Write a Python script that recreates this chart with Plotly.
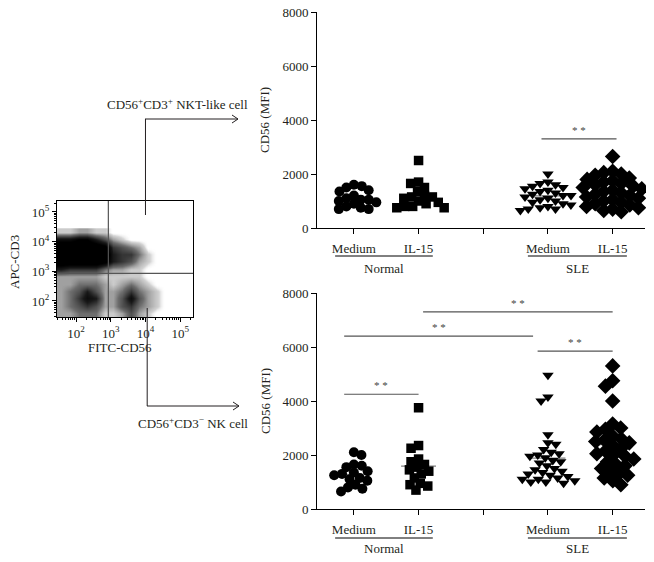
import numpy as np
import plotly.graph_objects as go

# ---------------- data ----------------
categories = ["Medium", "IL-15", "", "Medium", "IL-15"]
cat_positions = [1, 2, 3, 4, 5]
groups = ["Normal", "SLE"]
y_ticks = [0, 2000, 4000, 6000, 8000]

# CD56+CD3+ NKT-like cells (top panel), CD56 MFI
nkt_normal_medium = [1600, 1550, 1500, 1400, 1350, 1200, 1100, 1050, 1050, 1000, 950, 900, 800, 750, 700, 700]
nkt_normal_il15 = [2500, 1700, 1650, 1500, 1350, 1200, 1150, 1150, 1100, 1000, 950, 900, 800, 800, 750, 750]
nkt_sle_medium = [2000, 1700, 1650, 1600, 1550, 1500, 1450, 1400, 1350, 1300, 1250, 1200, 1200, 1150,
                  1100, 1050, 1000, 950, 900, 850, 800, 750, 700, 700, 650]
nkt_sle_il15 = [2650, 2100, 2050, 2000, 1950, 1850, 1800, 1750, 1700, 1650, 1600, 1550, 1500, 1450, 1400,
                1400, 1350, 1300, 1250, 1200, 1150, 1100, 1050, 1000, 950, 900, 850, 800, 750, 700, 650, 600]

# CD56+CD3- NK cells (bottom panel), CD56 MFI
nk_normal_medium = [2100, 2000, 1650, 1600, 1550, 1400, 1350, 1300, 1250, 1150, 1100, 1050, 900, 800, 750, 650]
nk_normal_il15 = [3750, 2350, 2250, 1850, 1750, 1650, 1550, 1450, 1400, 1300, 1150, 950, 900, 850, 700]
nk_sle_medium = [4950, 4150, 4000, 2750, 2450, 2400, 2200, 2100, 2050, 2000, 1950, 1900, 1800, 1750, 1700,
                 1600, 1500, 1450, 1400, 1350, 1300, 1250, 1200, 1150, 1100, 1100, 1050, 1000, 1000, 950]
nk_sle_il15 = [5300, 4750, 4550, 4000, 3150, 3000, 2950, 2850, 2700, 2600, 2550, 2500, 2450, 2350, 2250,
               2150, 2050, 2000, 1950, 1850, 1750, 1650, 1600, 1500, 1400, 1300, 1250, 1150, 1050, 900]

# significance comparisons: (from position, to position, bar level)
nkt_sig = [(3.9, 5.06, 3300)]
nk_sig = [(0.85, 2.0, 4250), (0.85, 3.77, 6400), (2.07, 5.0, 7300), (3.84, 5.0, 5850)]

# flow cytometry dot plot, as density (log10 units)
flow_x_log = [1.575, 1.825, 2.075, 2.325, 2.575, 2.825, 3.075, 3.325, 3.575, 3.825, 4.075, 4.325, 4.575]
flow_y_log = [1.575, 1.825, 2.075, 2.325, 2.575, 2.825, 3.075, 3.325, 3.575, 3.825, 4.075, 4.325]
flow_density = [
    [2, 2, 3, 3, 3, 1, 1, 2, 4, 2, 1, 0, 0],
    [2, 3, 4, 5, 4, 2, 2, 4, 5, 3, 2, 1, 0],
    [2, 3, 5, 7, 6, 2, 2, 4, 7, 4, 2, 1, 0],
    [2, 3, 4, 6, 4, 2, 2, 3, 5, 3, 2, 1, 0],
    [2, 2, 3, 3, 3, 2, 1, 2, 3, 2, 1, 0, 0],
    [2, 2, 2, 2, 2, 1, 1, 1, 1, 1, 0, 0, 0],
    [6, 5, 5, 5, 5, 3, 2, 2, 1, 1, 0, 0, 0],
    [10, 10, 10, 10, 10, 9, 6, 5, 4, 2, 1, 0, 0],
    [10, 10, 10, 10, 10, 10, 6, 5, 5, 3, 1, 0, 0],
    [10, 10, 10, 10, 10, 9, 5, 4, 3, 2, 0, 0, 0],
    [7, 7, 8, 8, 6, 4, 2, 1, 0, 0, 0, 0, 0],
    [1, 1, 2, 2, 1, 1, 0, 0, 0, 0, 0, 0, 0],
]
gate_log = 2.93
flow_ticks = [2, 3, 4, 5]

# ---------------- layout helpers ----------------
PAGE_W, PAGE_H = 654, 562
OFF = 8  # default page margin around the plot div
W, H = PAGE_W - 2 * OFF, PAGE_H - 2 * OFF
FONT = "Liberation Serif"
TXT = "#231f20"


def fx(px):
    return (px - OFF) / W


def fy(py):
    return 1 - (py - OFF) / H


XR = [0.43, 5.5]
YR = [0, 8000]
dom_x = [fx(317), fx(645)]
dom_top = [fy(228), fy(12)]
dom_bot = [fy(509), fy(293)]
kx = (645 - 317) / (XR[1] - XR[0])
ky = 216 / 8000


def swarm(vals, d):
    vals = list(vals)
    order = sorted(range(len(vals)), key=lambda i: -vals[i])
    placed = []
    offs = [0.0] * len(vals)
    flip = 1
    for i in order:
        y = vals[i] * ky
        cands = [0.0]
        for xj, yj in placed:
            dy = abs(y - yj)
            if dy < d:
                dx = np.sqrt(d * d - dy * dy)
                cands += [xj + dx + 1e-6, xj - dx - 1e-6]
        cands.sort(key=lambda c: (round(abs(c), 6), flip * c))
        chosen = 0.0
        for c in cands:
            if all((c - xj) ** 2 + (y - yj) ** 2 >= d * d - 1e-6 for xj, yj in placed):
                chosen = c
                break
        flip = -flip
        placed.append((chosen, y))
        offs[i] = chosen / kx
    return offs


fig = go.Figure()

symbols = ["circle", "square", "triangle-down", "diamond"]
sizes = [10, 9.5, 10, 12]
spacing = [8, 8, 8, 9]
panels = [
    ("x", "y", [nkt_normal_medium, nkt_normal_il15, nkt_sle_medium, nkt_sle_il15]),
    ("x2", "y2", [nk_normal_medium, nk_normal_il15, nk_sle_medium, nk_sle_il15]),
]
pos4 = [cat_positions[0], cat_positions[1], cat_positions[3], cat_positions[4]]
for xa, ya, series in panels:
    for k, vals in enumerate(series):
        m = float(np.mean(vals))
        c = pos4[k]
        fig.add_trace(go.Scatter(x=[c - 0.27, c + 0.27], y=[m, m], mode="lines",
                                 line=dict(color="#7f7f7f", width=1.2), xaxis=xa, yaxis=ya,
                                 hoverinfo="skip"))
        offs = swarm(vals, spacing[k])
        fig.add_trace(go.Scatter(x=[c + o for o in offs], y=vals, mode="markers",
                                 marker=dict(symbol=symbols[k], size=sizes[k], color="black",
                                             line=dict(width=0)),
                                 xaxis=xa, yaxis=ya, cliponaxis=False))

# flow density
fig.add_trace(go.Heatmap(x=flow_x_log, y=flow_y_log, z=flow_density, zmin=0, zmax=10,
                         zsmooth="best", showscale=False, xaxis="x3", yaxis="y3",
                         colorscale=[[0, "rgba(255,255,255,0)"], [0.08, "rgba(200,200,200,0.8)"],
                                     [0.3, "rgb(110,110,110)"], [0.6, "rgb(25,25,25)"],
                                     [0.8, "black"], [1, "black"]]))

ax_common = dict(showgrid=False, zeroline=False, showline=True, linecolor="black", linewidth=1,
                 ticks="outside", ticklen=5, tickcolor="black", automargin=False,
                 ticklabeloverflow="allow",
                 tickfont=dict(family=FONT, size=13, color=TXT))
for xa_name, ya_name, ydom, ya_ref in [("xaxis", "yaxis", dom_top, "y"), ("xaxis2", "yaxis2", dom_bot, "y2")]:
    fig.update_layout(**{
        xa_name: dict(ax_common, domain=dom_x, range=XR, anchor=ya_ref, tickvals=cat_positions,
                      ticktext=categories, ticklabelstandoff=3),
        ya_name: dict(ax_common, domain=ydom, range=YR, anchor=xa_name.replace("axis", ""),
                      tickvals=y_ticks, ticktext=[str(v) for v in y_ticks]),
    })

minor_vals = [np.log10(k * 10 ** n) for n in range(1, 6) for k in range(2, 10)]
minor_vals = [v for v in minor_vals if 1.45 < v < 5.37]
flow_ax = dict(showgrid=False, zeroline=False, showline=True, mirror=True, linecolor="black",
               linewidth=1, ticks="outside", ticklen=4, tickcolor="black", automargin=False,
               ticklabeloverflow="allow",
               tickvals=flow_ticks, ticktext=[f"10<sup>{t}</sup>" for t in flow_ticks],
               tickfont=dict(family=FONT, size=13, color=TXT),
               minor=dict(tickvals=minor_vals, ticklen=2, tickcolor="black", ticks="outside"))
fig.update_layout(
    xaxis3=dict(flow_ax, domain=[fx(57), fx(193)], range=[1.45, 5.37], anchor="y3"),
    yaxis3=dict(flow_ax, domain=[fy(317), fy(201)], range=[1.46, 5.37], anchor="x3"),
)

shapes = []
ann = []


def text(t, x, y, xref="paper", yref="paper", size=13, color=TXT, angle=0, **kw):
    ann.append(dict(text=t, x=x, y=y, xref=xref, yref=yref, showarrow=False, textangle=angle,
                    xanchor=kw.pop("xanchor", "center"), yanchor=kw.pop("yanchor", "middle"),
                    font=dict(family=FONT, size=size, color=color), **kw))


# gates
shapes.append(dict(type="line", xref="x3", yref="y3", x0=gate_log, x1=gate_log, y0=1.46, y1=5.37,
                   line=dict(color="#555", width=1.2)))
shapes.append(dict(type="line", xref="x3", yref="y3", x0=1.45, x1=5.37, y0=gate_log, y1=gate_log,
                   line=dict(color="#555", width=1.2)))
# pointer lines
LC = dict(color="#231f20", width=1)
shapes.append(dict(type="line", xref="x3", yref="paper", x0=4.0, x1=4.0, y0=fy(215), y1=fy(119), line=LC))
shapes.append(dict(type="line", xref="paper", yref="paper", x0=fx(145), x1=fx(238), y0=fy(119), y1=fy(119), line=LC))
shapes.append(dict(type="line", xref="paper", yref="paper", x0=fx(232), x1=fx(238), y0=fy(115), y1=fy(119), line=LC))
shapes.append(dict(type="line", xref="paper", yref="paper", x0=fx(232), x1=fx(238), y0=fy(123), y1=fy(119), line=LC))
shapes.append(dict(type="line", xref="x3", yref="paper", x0=4.05, x1=4.05, y0=fy(308), y1=fy(406), line=LC))
shapes.append(dict(type="line", xref="paper", yref="paper", x0=fx(147), x1=fx(239), y0=fy(406), y1=fy(406), line=LC))
shapes.append(dict(type="line", xref="paper", yref="paper", x0=fx(233), x1=fx(239), y0=fy(402), y1=fy(406), line=LC))
shapes.append(dict(type="line", xref="paper", yref="paper", x0=fx(233), x1=fx(239), y0=fy(410), y1=fy(406), line=LC))

text("CD56<sup>+</sup>CD3<sup>+</sup> NKT-like cell", fx(177), fy(104))
text("CD56<sup>+</sup>CD3<sup>−</sup> NK cell", fx(193), fy(423))
text("APC-CD3", fx(14), fy(262), angle=-90)
text("FITC-CD56", fx(120), fy(347))
text("CD56 (MFI)", fx(265), fy(120), angle=-90)
text("CD56 (MFI)", fx(265), fy(401), angle=-90)

# group underlines and labels
for xa, line_py, lab_py in [("x", 256, 268), ("x2", 538, 548)]:
    for gname, (g0, g1) in zip(groups, [(0.71, 2.22), (3.69, 5.22)]):
        shapes.append(dict(type="line", xref=xa, yref="paper", x0=g0, x1=g1, y0=fy(line_py), y1=fy(line_py),
                           line=dict(color="black", width=1)))
        text(gname, (g0 + g1) / 2, fy(lab_py), xref=xa)

# significance bars
for xa, ya, sigs in [("x", "y", nkt_sig), ("x2", "y2", nk_sig)]:
    for x0, x1, lvl in sigs:
        shapes.append(dict(type="line", xref=xa, yref=ya, x0=x0, x1=x1, y0=lvl, y1=lvl,
                           line=dict(color="#555", width=1.2)))
        text("* *", (x0 + x1) / 2, lvl, xref=xa, yref=ya, size=11, color="#444",
             yanchor="bottom", yshift=1)

fig.update_layout(width=W, height=H, margin=dict(l=0, r=0, t=0, b=0, autoexpand=False),
                  plot_bgcolor="white", paper_bgcolor="white", showlegend=False,
                  shapes=shapes, annotations=ann)

fig.write_html("out.html")
